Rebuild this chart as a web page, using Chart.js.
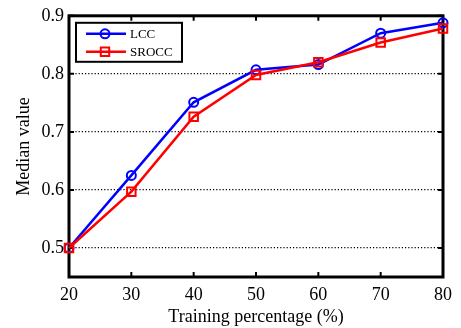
<!DOCTYPE html>
<html>
<head>
<meta charset="utf-8">
<script src="https://cdn.jsdelivr.net/npm/chart.js@4"></script>
<style>
  html, body { margin: 0; padding: 0; background: #fff; }
</style>
</head>
<body>
<canvas id="medianChart" width="461" height="328"></canvas>
<script>
// median correlation vs. training split
const trainingPct = [20, 30, 40, 50, 60, 70, 80];
const lccValues = [0.5, 0.625, 0.751, 0.807, 0.816, 0.870, 0.888];
const sroccValues = [0.5, 0.597, 0.726, 0.798, 0.820, 0.854, 0.878];
const xTicks = [20, 30, 40, 50, 60, 70, 80];
const yTicks = [0.5, 0.6, 0.7, 0.8, 0.9];

const serif = "'Liberation Serif', 'Times New Roman', serif";

function toPoints(values) {
    return trainingPct.map((p, i) => ({ x: p, y: values[i] }));
}

// matlab-style box with inward tick marks
const boxFrame = {
    id: 'boxFrame',
    beforeDatasetsDraw(chart) {
        const { ctx, chartArea: a, scales: { x, y } } = chart;
        const len = 5;
        ctx.save();
        ctx.strokeStyle = '#000';
        ctx.lineWidth = 2;
        xTicks.forEach(v => {
            const px = x.getPixelForValue(v);
            ctx.beginPath();
            ctx.moveTo(px, a.bottom); ctx.lineTo(px, a.bottom - len);
            ctx.moveTo(px, a.top); ctx.lineTo(px, a.top + len);
            ctx.stroke();
        });
        yTicks.forEach(v => {
            const py = y.getPixelForValue(v);
            ctx.beginPath();
            ctx.moveTo(a.left, py); ctx.lineTo(a.left + len, py);
            ctx.moveTo(a.right, py); ctx.lineTo(a.right - len, py);
            ctx.stroke();
        });
        ctx.lineWidth = 3;
        ctx.strokeRect(a.left, a.top, a.right - a.left, a.bottom - a.top);
        ctx.restore();
    }
};

function drawMarker(ctx, style, px, py, color) {
    ctx.strokeStyle = color;
    ctx.lineWidth = 2;
    ctx.beginPath();
    if (style === 'circle') {
        ctx.arc(px, py, 4.5, 0, Math.PI * 2);
    } else {
        ctx.rect(px - 4.2, py - 4.2, 8.4, 8.4);
    }
    ctx.stroke();
}

const boxLegend = {
    id: 'boxLegend',
    afterDraw(chart) {
        const { ctx, chartArea: a } = chart;
        const left = a.left + 7, top = a.top + 7;
        ctx.save();
        ctx.fillStyle = '#fff';
        ctx.fillRect(left, top, 106, 39);
        ctx.strokeStyle = '#000';
        ctx.lineWidth = 2;
        ctx.strokeRect(left, top, 106, 39);
        chart.data.datasets.forEach((ds, i) => {
            const rowY = top + 11 + i * 18;
            ctx.strokeStyle = ds.borderColor;
            ctx.lineWidth = ds.borderWidth;
            ctx.beginPath();
            ctx.moveTo(left + 10, rowY);
            ctx.lineTo(left + 50, rowY);
            ctx.stroke();
            drawMarker(ctx, ds.pointStyle, left + 29, rowY, ds.borderColor);
            ctx.fillStyle = '#000';
            ctx.font = '13px ' + serif;
            ctx.textBaseline = 'middle';
            ctx.fillText(ds.label, left + 54, rowY + 1);
        });
        ctx.restore();
    }
};

new Chart(document.getElementById('medianChart'), {
    type: 'line',
    data: {
        datasets: [{
            label: 'LCC',
            data: toPoints(lccValues),
            borderColor: '#0000ff',
            backgroundColor: 'rgba(0,0,0,0)',
            borderWidth: 2.5,
            pointStyle: 'circle',
            pointRadius: 4.5,
            pointBorderWidth: 2,
            clip: false,
            order: 2
        }, {
            label: 'SROCC',
            data: toPoints(sroccValues),
            borderColor: '#ff0000',
            backgroundColor: 'rgba(0,0,0,0)',
            borderWidth: 2.5,
            pointStyle: 'rect',
            pointRadius: 6,
            pointBorderWidth: 2,
            clip: false,
            order: 1
        }]
    },
    options: {
        responsive: false,
        animation: false,
        layout: { padding: { left: 0, top: 12, right: 18, bottom: 0 } },
        plugins: {
            legend: { display: false },
            tooltip: { enabled: false }
        },
        scales: {
            x: {
                type: 'linear',
                min: 20,
                max: 80,
                afterBuildTicks: s => { s.ticks = xTicks.map(v => ({ value: v })); },
                afterFit: s => { s.height = 51; },
                grid: { display: false, drawTicks: false },
                border: { display: false },
                ticks: { color: '#000', padding: 7, font: { family: serif, size: 18 } },
                title: {
                    display: true,
                    text: 'Training percentage (%)',
                    color: '#000',
                    padding: { top: 0, bottom: 0 },
                    font: { family: serif, size: 18 }
                }
            },
            y: {
                min: 0.45,
                max: 0.9,
                afterBuildTicks: s => { s.ticks = yTicks.map(v => ({ value: v })); },
                afterFit: s => { s.width = 69; },
                grid: { color: '#000', lineWidth: 1.2, drawTicks: false },
                border: { display: false, dash: [1.2, 2] },
                ticks: {
                    color: '#000',
                    padding: 5,
                    font: { family: serif, size: 18 },
                    callback: v => v.toFixed(1)
                },
                title: {
                    display: true,
                    text: 'Median value',
                    color: '#000',
                    padding: { top: 13, bottom: 0 },
                    font: { family: serif, size: 18 }
                }
            }
        }
    },
    plugins: [boxFrame, boxLegend]
});
</script>
</body>
</html>
